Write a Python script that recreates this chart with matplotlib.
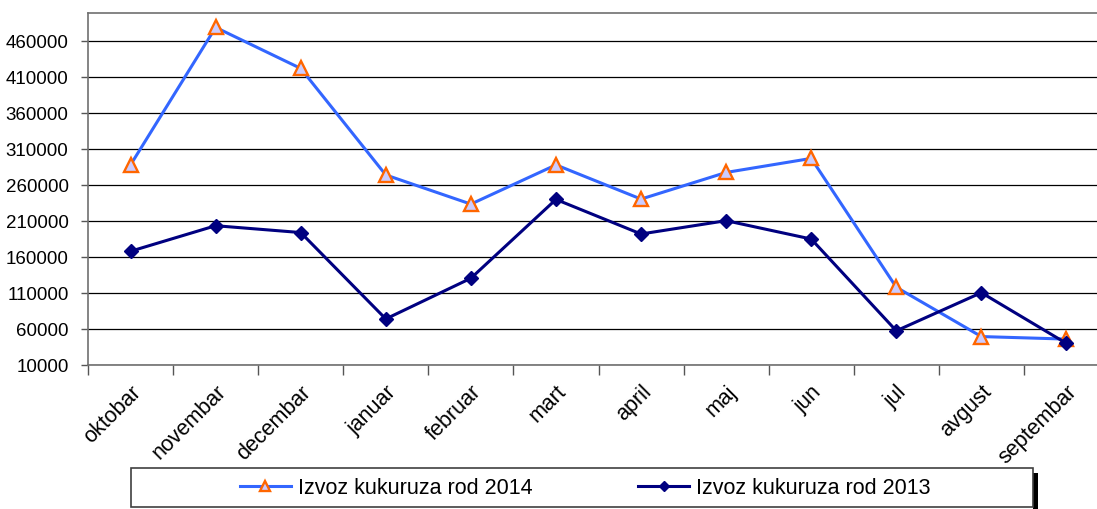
import numpy as np
import matplotlib.pyplot as plt
from matplotlib.patches import Rectangle

plt.rcParams['font.family'] = ['Liberation Sans', 'DejaVu Sans']

# Mjeseci (oktobar - septembar)
meseci = ['oktobar', 'novembar', 'decembar', 'januar', 'februar', 'mart',
          'april', 'maj', 'jun', 'jul', 'avgust', 'septembar']

# Izvoz kukuruza, rod 2014 i rod 2013
rod_2014 = [288000, 479000, 422000, 274000, 233500, 288000,
            240500, 277500, 297000, 118000, 49500, 46000]
rod_2013 = [168000, 203500, 194000, 74000, 130500, 240000,
            192000, 210500, 185000, 57500, 110500, 40000]

y_tikovi = list(range(10000, 460001, 50000))

fig = plt.figure(figsize=(10.97, 5.09), dpi=100)
ax = fig.add_axes([88/1097, 1 - 365/509, (1109 - 88)/1097, (365 - 13)/509])

x = np.arange(len(meseci))
ax.plot(x, rod_2014, color='#3366FF', lw=2.2, marker='^', ms=10,
        mfc='#CCCCFF', mec='#FF6600', mew=1.7, label='Izvoz kukuruza rod 2014',
        zorder=3)
ax.plot(x, rod_2013, color='#000080', lw=2.2, marker='D', ms=7.5,
        mfc='#000080', mec='#000080', label='Izvoz kukuruza rod 2013',
        zorder=3)

ax.set_xlim(-0.5, len(meseci) - 0.5)
ax.set_ylim(10000, 499000)

ax.set_yticks(y_tikovi)
ax.set_yticklabels([str(v) for v in y_tikovi], fontsize=13.5)
ax.yaxis.grid(True, color='black', lw=0.9)
ax.set_axisbelow(True)

# crtice na granicama kategorija, nazivi u sredini
ax.set_xticks(np.arange(-0.5, len(meseci), 1.0))
ax.set_xticklabels([])
ax.set_xticks(x, minor=True)
ax.set_xticklabels(meseci, minor=True, fontsize=15.5, rotation=45,
                   ha='right', va='top', rotation_mode='anchor')
ax.tick_params(axis='x', which='major', length=7, color='#555555', width=1)
ax.tick_params(axis='x', which='minor', length=0, pad=12)
ax.tick_params(axis='y', length=5, color='#555555', width=1, pad=9)

for s in ['left', 'bottom', 'top']:
    ax.spines[s].set_color('#707070')
    ax.spines[s].set_linewidth(1.2)
ax.spines['right'].set_visible(False)

# okvir legende sa sjenkom
fig.patches.append(Rectangle((1033/1097, 0), 5/1097, (509 - 473)/509,
                             transform=fig.transFigure, color='black', lw=0))
fig.patches.append(Rectangle((131/1097, 1 - 507/509), (1033 - 131)/1097,
                             (507 - 468)/509, transform=fig.transFigure,
                             facecolor='white', edgecolor='#404040', lw=1.2))

h, l = ax.get_legend_handles_labels()
fig.legend(h, l, loc='center', bbox_to_anchor=(585/1097, 1 - 488/509),
           ncol=2, frameon=False, fontsize=15.5, handlelength=2.4,
           handletextpad=0.3, columnspacing=4.9, markerscale=0.7)

fig.savefig('out.png', dpi=100)
